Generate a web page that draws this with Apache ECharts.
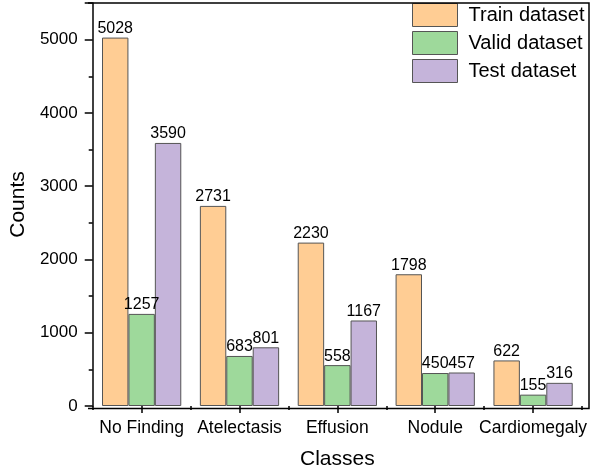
<!DOCTYPE html>
<html>
<head>
<meta charset="utf-8">
<script src="https://cdn.jsdelivr.net/npm/echarts@6/dist/echarts.min.js"></script>
<style>html,body{margin:0;padding:0;background:#fff}#c{width:590px;height:475px}</style>
</head>
<body>
<div id="c"></div>
<script>
const categories = ['No Finding', 'Atelectasis', 'Effusion', 'Nodule', 'Cardiomegaly'];
const trainValues = [5028, 2731, 2230, 1798, 622];
const validValues = [1257, 683, 558, 450, 155];
const testValues = [3590, 801, 1167, 457, 316];
const seriesNames = ['Train dataset', 'Valid dataset', 'Test dataset'];
const yTicks = [0, 1000, 2000, 3000, 4000, 5000];

const colors = ['#FFCD94', '#9ED99B', '#C5B4DA'];
const font = '"Liberation Sans", Arial, sans-serif';
const chart = echarts.init(document.getElementById('c'));
const G = {left: 88, right: 8, top: 3, bottom: 67};

function barSeries(name, data, color) {
  return {
    name: name, type: 'bar', data: data, barGap: '0%', barCategoryGap: '19%',
    itemStyle: {color: color, borderColor: '#555', borderWidth: 1},
    label: {show: true, position: 'top', distance: 1, color: '#000', fontFamily: font, fontSize: 16},
    emphasis: {disabled: true}
  };
}

chart.setOption({
  animation: false,
  color: colors,
  grid: G,
  legend: {
    data: seriesNames, orient: 'vertical', left: 412, top: 3, padding: 0,
    icon: 'rect', itemWidth: 45, itemHeight: 23, itemGap: 4,
    textStyle: {fontFamily: font, fontSize: 20, color: '#000', padding: [0, 0, 0, 6]},
    itemStyle: {borderColor: '#555', borderWidth: 1}
  },
  xAxis: [{
    type: 'category', data: categories,
    name: 'Classes', nameLocation: 'middle', nameGap: 43,
    nameTextStyle: {fontFamily: font, fontSize: 21, color: '#000'},
    axisLine: {show: false},
    axisTick: {show: true, alignWithLabel: true, length: 7, lineStyle: {color: '#000', width: 1.5}},
    axisLabel: {fontFamily: font, fontSize: 17.5, color: '#000', margin: 13, interval: 0}
  }, {
    type: 'category', data: categories, position: 'bottom',
    axisLine: {show: false},
    axisTick: {show: true, length: 4, lineStyle: {color: '#000', width: 1.5}},
    axisLabel: {show: false}
  }],
  yAxis: {
    type: 'value', min: 0, max: 5500, interval: 1000,
    name: 'Counts', nameLocation: 'middle', nameGap: 56,
    nameTextStyle: {fontFamily: font, fontSize: 21, color: '#000'},
    axisLine: {show: true, lineStyle: {color: '#000', width: 1.5}},
    axisTick: {show: true, length: 8, lineStyle: {color: '#000', width: 1.5}},
    minorTick: {show: true, splitNumber: 2, length: 4, lineStyle: {color: '#000', width: 1.5}},
    splitLine: {show: false},
    axisLabel: {fontFamily: font, fontSize: 17, color: '#000', margin: 15,
      formatter: v => yTicks.indexOf(v) >= 0 ? String(v) : ''}
  },
  graphic: [{
    type: 'polyline', z: 10,
    shape: {points: [[88, 408.5], [589, 408.5], [589, 3], [88, 3]]},
    style: {stroke: '#000', lineWidth: 1.5, fill: null}
  }],
  series: [
    barSeries(seriesNames[0], trainValues, colors[0]),
    barSeries(seriesNames[1], validValues, colors[1]),
    barSeries(seriesNames[2], testValues, colors[2])
  ]
});
</script>
</body>
</html>
